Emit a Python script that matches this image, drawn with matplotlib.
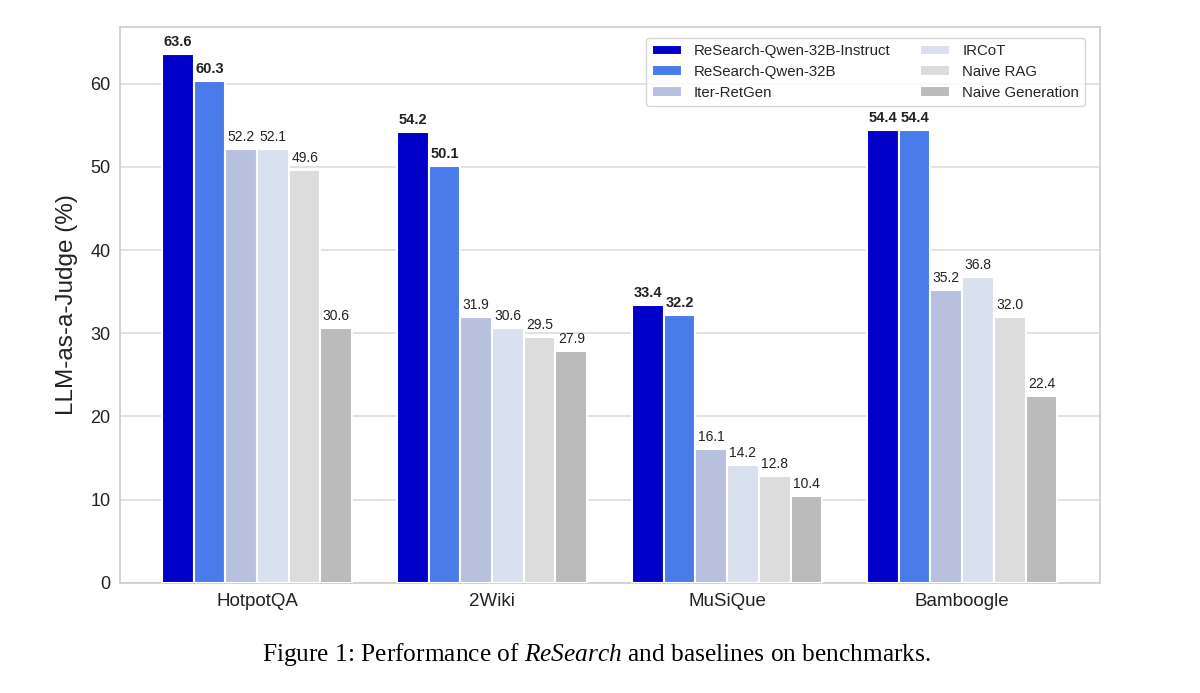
import numpy as np
import matplotlib.pyplot as plt
import seaborn as sns

sns.set_style("whitegrid")
plt.rcParams['font.family'] = ['Liberation Sans', 'DejaVu Sans']
plt.rcParams['mathtext.fontset'] = 'custom'
plt.rcParams['mathtext.rm'] = 'Liberation Serif'
plt.rcParams['mathtext.it'] = 'Liberation Serif:italic'

datasets = ["HotpotQA", "2Wiki", "MuSiQue", "Bamboogle"]
methods = ["ReSearch-Qwen-32B-Instruct", "ReSearch-Qwen-32B", "Iter-RetGen",
           "IRCoT", "Naive RAG", "Naive Generation"]
scores = {
    "ReSearch-Qwen-32B-Instruct": [63.6, 54.2, 33.4, 54.4],
    "ReSearch-Qwen-32B": [60.3, 50.1, 32.2, 54.4],
    "Iter-RetGen": [52.2, 31.9, 16.1, 35.2],
    "IRCoT": [52.1, 30.6, 14.2, 36.8],
    "Naive RAG": [49.6, 29.5, 12.8, 32.0],
    "Naive Generation": [30.6, 27.9, 10.4, 22.4],
}
colors = ["#0000C8", "#4A7BEA", "#B8C0E0", "#DAE1EE", "#DCDCDC", "#BBBBBB"]

fig = plt.figure(figsize=(12, 6.93), dpi=100)
ax = fig.add_axes([0.1, 0.159, 0.8167, 0.802])

x = np.arange(len(datasets))
pitch = 0.135
for i, m in enumerate(methods):
    pos = x + (i - 2.5) * pitch
    bars = ax.bar(pos, scores[m], width=pitch, color=colors[i], label=m,
                  edgecolor="white", linewidth=1.5, zorder=3)
    bold = i < 2
    for b, v in zip(bars, scores[m]):
        ax.text(b.get_x() + b.get_width() / 2, v + 0.6, f"{v:.1f}",
                ha="center", va="bottom", fontsize=10.5 if bold else 10,
                fontweight="bold" if bold else "normal", color="#222222")

ax.set_xlim(-0.583, 3.587)
ax.set_ylim(0, 66.8)
ax.set_xticks(x)
ax.set_xticklabels(datasets, fontsize=13.5, color="#222222")
ax.tick_params(axis="y", labelsize=13, colors="#222222")
ax.tick_params(axis="x", pad=4)
ax.set_yticks([0, 10, 20, 30, 40, 50, 60])
ax.set_ylabel("LLM-as-a-Judge (%)", fontsize=17.5, color="#222222", labelpad=9)
ax.grid(axis="x", visible=False)
ax.grid(axis="y", color="#DDDDDD", linewidth=1.2, zorder=0)
for s in ax.spines.values():
    s.set_color("#CCCCCC")
    s.set_linewidth(1.2)

ax.legend(ncol=2, loc="upper right", fontsize=10.8, frameon=True,
          bbox_to_anchor=(0.985, 0.98), borderaxespad=0, columnspacing=2.0,
          handlelength=2.0, labelspacing=0.45, handletextpad=0.8)

fig.text(0.497, 0.055, "Figure 1: Performance of $\\it{ReSearch}$ and baselines on benchmarks.",
         ha="center", va="center", fontsize=18.3, family="Liberation Serif", color="black")

fig.savefig("out.png", dpi=100)
